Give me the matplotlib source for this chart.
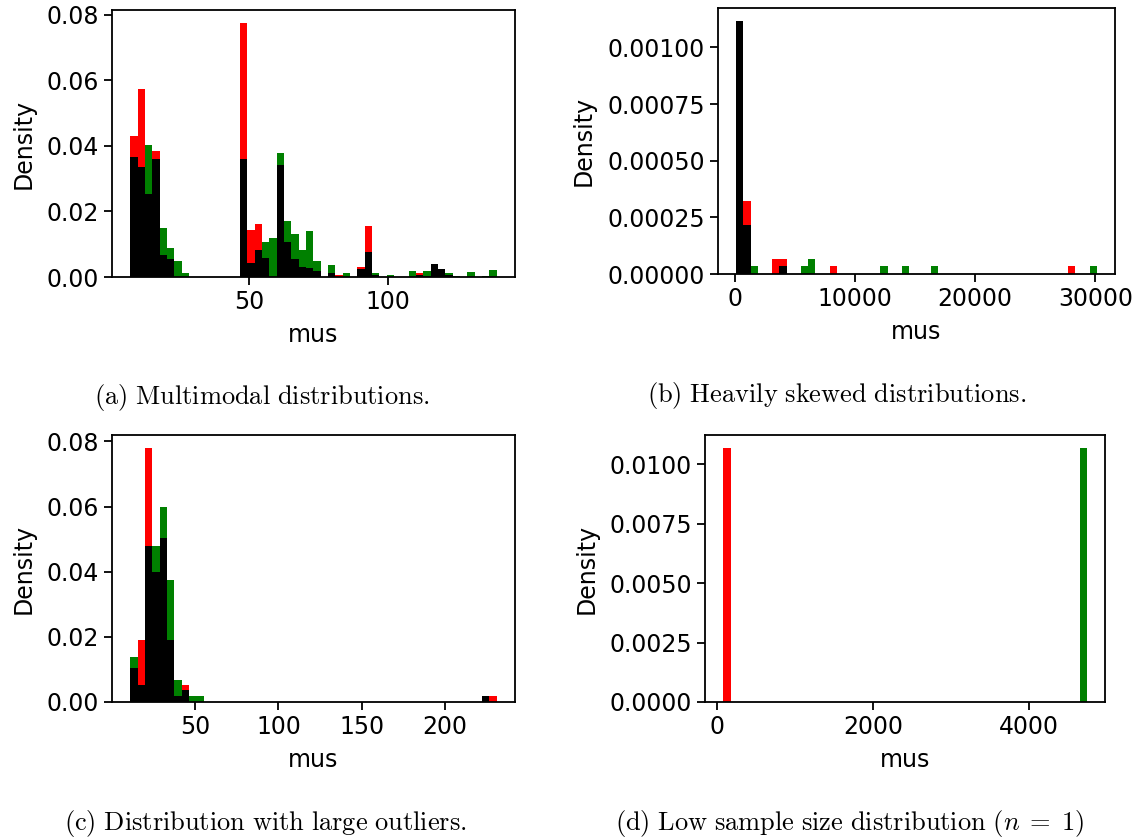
import matplotlib
matplotlib.use('Agg')
import matplotlib.pyplot as plt
import numpy as np

plt.rcParams['font.family'] = ['DejaVu Sans']
plt.rcParams['font.size'] = 17
plt.rcParams['mathtext.fontset'] = 'cm'
plt.rcParams['axes.linewidth'] = 1.3
plt.rcParams['xtick.major.width'] = 1.3
plt.rcParams['ytick.major.width'] = 1.3
plt.rcParams['xtick.major.size'] = 6
plt.rcParams['ytick.major.size'] = 6

n_bins = 50

# (a) multimodal: shared bin range, non-zero bins only (index, density)
a_range = (7.3, 139.3)
a_red_idx = [0, 1, 3, 15, 16, 17, 28, 31, 32, 39]
a_red_val = [0.0429, 0.0574, 0.0384, 0.0775, 0.0144, 0.0163, 0.0006, 0.0031, 0.0156, 0.0011]
a_green_idx = [2, 4, 5, 6, 7, 18, 19, 20, 21, 22, 23, 24, 25, 27, 29, 33, 35, 38, 40, 43, 44, 46, 48, 49]
a_green_val = [0.0403, 0.0150, 0.0087, 0.0049, 0.0011, 0.0107, 0.0119, 0.0378, 0.0170, 0.0131,
               0.0082, 0.0139, 0.0050, 0.0037, 0.0011, 0.0011, 0.0005, 0.0018, 0.0017, 0.0011,
               0.0004, 0.0016, 0.0004, 0.0022]
a_black_idx = [0, 1, 2, 3, 4, 5, 15, 16, 17, 18, 20, 21, 22, 23, 24, 25, 27, 31, 32, 33, 39, 40, 41, 42, 43]
a_black_val = [0.0365, 0.0335, 0.0252, 0.0359, 0.0068, 0.0055, 0.0359, 0.0044, 0.0081, 0.0058,
               0.0340, 0.0107, 0.0056, 0.0031, 0.0026, 0.0019, 0.0013, 0.0025, 0.0075, 0.0005,
               0.0006, 0.0004, 0.0041, 0.0023, 0.0005]

# (b) heavily skewed
b_range = (115, 30135)
b_red_idx = [1, 5, 6, 13, 46]
b_red_val = [0.000323, 0.0000667, 0.0000667, 0.0000333, 0.0000333]
b_green_idx = [2, 9, 10, 20, 23, 27, 49]
b_green_val = [0.0000333, 0.0000333, 0.0000667, 0.0000333, 0.0000333, 0.0000333, 0.0000333]
b_black_idx = [0, 1, 6]
b_black_val = [0.001118, 0.000215, 0.0000333]

# (c) large outliers
c_range = (11.2, 230.8)
c_red_idx = [1, 2, 7, 49]
c_red_val = [0.0190, 0.0781, 0.0052, 0.00175]
c_green_idx = [0, 3, 4, 5, 6, 8, 9]
c_green_val = [0.0137, 0.0479, 0.0599, 0.0376, 0.0069, 0.00175, 0.00175]
c_black_idx = [0, 1, 2, 3, 4, 5, 6, 7, 48]
c_black_val = [0.0105, 0.0052, 0.0479, 0.0400, 0.0505, 0.0190, 0.0018, 0.0036, 0.00175]

# (d) n = 1
d_range = (80, 4742)
d_red_idx = [0]
d_red_val = [0.0107]
d_green_idx = [49]
d_green_val = [0.0107]
d_black_idx = []
d_black_val = []

captions = [r'$\mathrm{(a)\ Multimodal\ distributions.}$',
            r'$\mathrm{(b)\ Heavily\ skewed\ distributions.}$',
            r'$\mathrm{(c)\ Distribution\ with\ large\ outliers.}$',
            r'$\mathrm{(d)\ Low\ sample\ size\ distribution\ (}n\;=\;1\mathrm{)}$']

panels = [
    (a_range, [(a_red_idx, a_red_val), (a_green_idx, a_green_val), (a_black_idx, a_black_val)]),
    (b_range, [(b_red_idx, b_red_val), (b_green_idx, b_green_val), (b_black_idx, b_black_val)]),
    (c_range, [(c_red_idx, c_red_val), (c_green_idx, c_green_val), (c_black_idx, c_black_val)]),
    (d_range, [(d_red_idx, d_red_val), (d_green_idx, d_green_val), (d_black_idx, d_black_val)]),
]
colors = ['red', 'green', 'black']

fig = plt.figure(figsize=(11.47, 8.40), dpi=100)
rects = [[0.0976, 0.6702, 0.3513, 0.3179],
         [0.6260, 0.6738, 0.3461, 0.3167],
         [0.0976, 0.1643, 0.3513, 0.3179],
         [0.6147, 0.1643, 0.3487, 0.3179]]
cap_pos = [(0.2285, 0.527), (0.729, 0.529), (0.2315, 0.020), (0.741, 0.020)]

for k, ((lo, hi), series) in enumerate(panels):
    ax = fig.add_axes(rects[k])
    edges = np.linspace(lo, hi, n_bins + 1)
    centers = 0.5 * (edges[:-1] + edges[1:])
    for (idx, val), col in zip(series, colors):
        dens = np.zeros(n_bins)
        dens[idx] = val
        ax.hist(centers, bins=edges, weights=dens, color=col)
    ax.set_xlabel('mus', labelpad=6)
    ax.set_ylabel('Density', labelpad=8)
    if k == 0:
        ax.set_xticks([50, 100])
    fig.text(cap_pos[k][0], cap_pos[k][1], captions[k], ha='center', va='center', fontsize=19)

fig.savefig('out.png', dpi=100)
